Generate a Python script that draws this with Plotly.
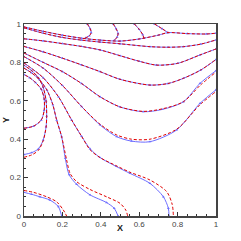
import plotly.graph_objects as go

# ---- data ----
# top cluster
t_x = [0.0, 0.1, 0.2, 0.3, 0.4, 0.5, 0.6, 0.7, 0.75, 0.85, 0.95, 1.0]
t_y = [0.985, 0.962, 0.942, 0.926, 0.916, 0.911, 0.922, 0.942, 0.955, 0.95, 0.948, 0.952]
loop1_x = [0.33, 0.345, 0.35, 0.34, 0.32]
loop1_y = [1.0, 0.975, 0.955, 0.938, 0.928]
loop2_x = [0.465, 0.48, 0.49, 0.485, 0.47]
loop2_y = [1.0, 0.975, 0.95, 0.932, 0.915]
loop3_x = [0.575, 0.6, 0.618, 0.625]
loop3_y = [1.0, 0.972, 0.945, 0.925]
loop4_x = [0.68, 0.72, 0.75]
loop4_y = [1.0, 0.975, 0.955]
b_x = [0.0, 0.1, 0.2, 0.3, 0.396, 0.5, 0.656, 0.75, 0.83, 0.92, 1.0]
b_y = [0.98, 0.952, 0.93, 0.916, 0.906, 0.897, 0.882, 0.879, 0.882, 0.895, 0.917]
c_x = [0.0, 0.1, 0.2, 0.3, 0.396, 0.5, 0.6, 0.69, 0.8, 0.917, 1.0]
c_y = [0.923, 0.912, 0.898, 0.883, 0.865, 0.835, 0.806, 0.786, 0.795, 0.839, 0.87]
d_x = [0.0, 0.1, 0.2, 0.3, 0.396, 0.5, 0.656, 0.75, 0.83, 0.92, 1.0]
d_y = [0.883, 0.855, 0.822, 0.787, 0.752, 0.712, 0.682, 0.69, 0.717, 0.76, 0.815]
e_x = [0.0, 0.1, 0.2, 0.3, 0.396, 0.5, 0.621, 0.72, 0.83, 0.917, 1.0]
e_y = [0.849, 0.8, 0.752, 0.69, 0.621, 0.568, 0.543, 0.555, 0.595, 0.691, 0.757]
e_red_y = [0.849, 0.8, 0.752, 0.69, 0.621, 0.568, 0.545, 0.558, 0.595, 0.68, 0.75]
f_x = [0.0, 0.1, 0.2, 0.3, 0.396, 0.483, 0.56, 0.656, 0.795, 0.917, 1.0]
f_y = [0.83, 0.77, 0.68, 0.57, 0.474, 0.413, 0.39, 0.387, 0.448, 0.587, 0.657]
f_red_y = [0.83, 0.77, 0.68, 0.57, 0.478, 0.422, 0.4, 0.4, 0.452, 0.58, 0.648]
g_x = [0.0, 0.1, 0.18, 0.248, 0.3, 0.344, 0.395, 0.48, 0.552, 0.656, 0.726, 0.752, 0.755]
g_y = [0.797, 0.72, 0.62, 0.5, 0.415, 0.35, 0.305, 0.258, 0.222, 0.17, 0.1, 0.04, 0.0]
g_red_x = [0.0, 0.1, 0.18, 0.248, 0.3, 0.344, 0.395, 0.48, 0.552, 0.656, 0.743, 0.772, 0.778]
g_red_y = [0.797, 0.72, 0.62, 0.5, 0.415, 0.345, 0.305, 0.262, 0.228, 0.1875, 0.127, 0.06, 0.0]
h_x = [0.0, 0.04, 0.08, 0.12, 0.15, 0.17, 0.196, 0.215, 0.235, 0.274, 0.344, 0.43, 0.47, 0.49]
h_y = [0.77, 0.745, 0.71, 0.655, 0.58, 0.5, 0.413, 0.3, 0.215, 0.165, 0.11, 0.07, 0.04, 0.0]
h_red_x = [0.0, 0.04, 0.08, 0.12, 0.15, 0.17, 0.196, 0.222, 0.24, 0.274, 0.344, 0.43, 0.5, 0.53, 0.54]
h_red_y = [0.77, 0.745, 0.71, 0.655, 0.58, 0.5, 0.413, 0.292, 0.222, 0.179, 0.138, 0.1, 0.066, 0.031, 0.0]
p_x = [0.0, 0.04, 0.075, 0.1, 0.115, 0.118, 0.115, 0.1, 0.075, 0.04, 0.0]
p_y = [0.32, 0.33, 0.35, 0.396, 0.465, 0.52, 0.6, 0.67, 0.72, 0.757, 0.785]
p_red_y = [0.306, 0.318, 0.342, 0.392, 0.462, 0.52, 0.6, 0.67, 0.72, 0.757, 0.785]
q_x = [0.0, 0.05, 0.09, 0.105, 0.105, 0.09, 0.06, 0.03, 0.0]
q_y = [0.457, 0.468, 0.5, 0.55, 0.61, 0.66, 0.695, 0.72, 0.737]
s_x = [0.0, 0.04, 0.083, 0.135, 0.179, 0.196]
s_y = [0.123, 0.113, 0.1, 0.083, 0.049, 0.0]
s_red_x = [0.0, 0.05, 0.118, 0.17, 0.205, 0.222]
s_red_y = [0.133, 0.123, 0.1, 0.074, 0.031, 0.0]

x_title = "X"
y_title = "Y"

BLUE = "rgb(110,110,255)"
RED = "rgb(225,0,0)"
FONT = "Liberation Sans, Arial"

blue_curves = [
    (t_x, t_y), (loop1_x, loop1_y), (loop2_x, loop2_y), (loop3_x, loop3_y), (loop4_x, loop4_y),
    (b_x, b_y), (c_x, c_y), (d_x, d_y), (e_x, e_y), (f_x, f_y), (g_x, g_y), (h_x, h_y),
    (p_x, p_y), (q_x, q_y), (s_x, s_y),
]
red_curves = [
    (t_x, t_y), (loop1_x, loop1_y), (loop2_x, loop2_y), (loop3_x, loop3_y), (loop4_x, loop4_y),
    (b_x, b_y), (c_x, c_y), (d_x, d_y), (e_x, e_red_y), (f_x, f_red_y), (g_red_x, g_red_y),
    (h_red_x, h_red_y), (p_x, p_red_y), (q_x, q_y), (s_red_x, s_red_y),
]

fig = go.Figure()
for xs, ys in blue_curves:
    fig.add_trace(go.Scatter(
        x=xs, y=ys, mode="lines+markers",
        line=dict(color=BLUE, width=1, shape="spline", smoothing=0.8),
        marker=dict(symbol="triangle-up", size=2.5, color=BLUE),
        showlegend=False, hoverinfo="skip"))
for xs, ys in red_curves:
    fig.add_trace(go.Scatter(
        x=xs, y=ys, mode="lines",
        line=dict(color=RED, width=1, dash="3px,2px", shape="spline", smoothing=0.8),
        showlegend=False, hoverinfo="skip"))

axis_common = dict(
    range=[0, 1], dtick=0.2, tick0=0, ticks="inside", ticklen=4, tickwidth=1,
    tickcolor="#333", showline=True, linecolor="#444", linewidth=1.5, mirror=True,
    showgrid=False, zeroline=False, automargin=False,
    tickfont=dict(family=FONT, size=8, color="#444"),
    minor=dict(dtick=0.05, ticks="inside", ticklen=2, tickcolor="#333", showgrid=False),
)
fig.update_layout(
    width=241, height=241,
    margin=dict(l=24, r=25, t=24, b=25),
    paper_bgcolor="white", plot_bgcolor="white",
    xaxis=axis_common,
    yaxis=axis_common,
    annotations=[
        dict(text="<b>%s</b>" % x_title, xref="paper", yref="paper", x=0.5, y=-0.065,
             xanchor="center", yanchor="middle", showarrow=False,
             font=dict(family=FONT, size=9, color="#222")),
        dict(text="<b>%s</b>" % y_title, xref="paper", yref="paper", x=-0.094, y=0.5,
             xanchor="center", yanchor="middle", showarrow=False, textangle=-90,
             font=dict(family=FONT, size=9, color="#222")),
    ],
)
fig.write_html("out.html", config={"displayModeBar": False, "staticPlot": True},
               post_script="document.body.style.margin='0';document.body.style.overflow='hidden';")
